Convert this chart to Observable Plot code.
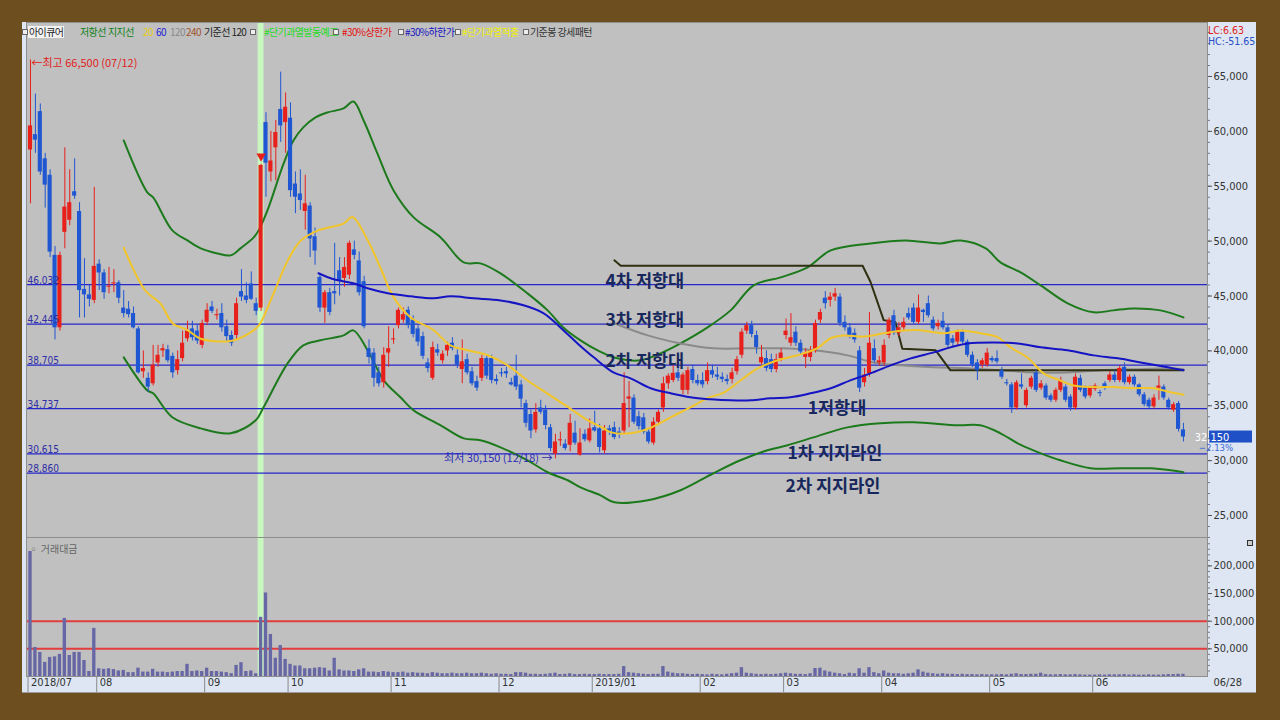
<!DOCTYPE html>
<html><head><meta charset="utf-8">
<script src="https://cdn.jsdelivr.net/npm/d3@7"></script>
<script src="https://cdn.jsdelivr.net/npm/@observablehq/plot@0.6"></script>
<style>
html,body{margin:0;padding:0;background:#6d4f1f;overflow:hidden;}
#frame{position:relative;width:1280px;height:720px;background:#6d4f1f;overflow:hidden;}
#chart{position:absolute;left:22px;top:22px;width:1234px;height:670px;background:#dde6f2;border-bottom:1px solid #9a9a9a;}
#price{position:absolute;left:0;top:0;}
#vol{position:absolute;left:0;top:515px;}
.lg{position:absolute;top:4px;font-family:"Noto Sans CJK KR","Noto Sans",sans-serif;font-size:10px;line-height:12px;white-space:nowrap;letter-spacing:-0.6px;}
.sq{position:absolute;top:7px;width:4px;height:4px;border:1px solid #666;background:#eee;}
.rt{position:absolute;left:1186px;font-family:"Liberation Sans Narrow","DejaVu Sans Condensed",Arial,sans-serif;font-size:10.5px;line-height:11px;}
</style></head>
<body><div id="frame"><div id="chart">
<div id="price"></div><div id="vol"></div>
</div></div>
<script>
// ---------------- DATA ----------------
const monthStarts = [0,14,36,53,74,96,115,137,154,174,196,217];
const monthLabels = ["2018/07","08","09","10","11","12","2019/01","02","03","04","05","06"];
const lastDateLabel = "06/28";

const opens = [
58300,59700,61800,57500,56000,48700,42100,50800,51900,54500,52700,45600,45100,44600,
47900,47100,45800,46100,46200,43900,43800,43400,42000,38100,37500,37000,38900,40000,40100,39500,38200,39300,41100,42000,41800,40500,
42600,44000,43200,43400,42200,41400,41400,45400,45000,46100,44300,43900,60800,56300,58500,62000,60800,
61200,55200,54300,52700,53200,50400,46700,43900,45300,45400,47300,46600,46900,49200,48200,46300,40200,39800,38000,37100,39800,
41000,42300,42800,43700,42800,42000,41300,38900,37500,40100,39100,40000,40700,39600,38300,39200,38100,37200,37500,39300,39300,37400,
38000,38100,37100,37700,36900,35200,34200,32800,34800,34600,33000,30600,31800,31500,31400,32500,30500,32400,31800,
33000,32900,30900,32900,33000,32600,32700,35600,35700,34000,33900,32600,31600,33500,34800,37000,37300,38000,36400,36400,38300,37300,
37300,37200,38200,37800,37600,37400,37400,38100,39600,41800,42300,41400,38900,39300,39200,38300,39300,
41400,40700,41700,40700,39400,39400,40000,42800,44800,44600,44900,44900,42600,42100,41600,40000,37100,37900,40200,38900,
38900,41400,43200,41600,42100,43400,43900,42600,43700,44300,42800,42200,42700,42100,41100,40800,41700,40800,39600,38900,38700,38700,
39300,39300,38200,37100,36900,34800,36900,35000,36700,38000,36600,36800,35900,35500,36400,36700,35800,34800,37500,36600,35900,
36500,36200,37000,37300,37800,37300,38500,37100,37600,36900,36000,35500,34900,36600,36700,35500,34600,35200,32800];

const highs = [
66500,63400,62500,58000,56500,49500,49000,58500,56500,57500,53500,48400,46000,54900,
48300,47400,47600,47400,46400,45500,44500,44000,42200,40000,38000,40500,40500,40600,40500,39800,40000,41800,42700,42700,42400,42800,
44300,44500,43800,44300,42800,41800,44800,47400,46200,47200,44800,57000,61700,60000,61000,65400,63500,
62600,56300,56500,56000,53500,51200,47000,45500,45700,49800,48500,48500,50000,50000,49000,46800,41000,40200,38500,40300,42200,
42000,43900,43900,44000,43200,42300,41700,39300,40800,40600,40000,40800,41200,40100,41000,39700,38500,37700,39600,39600,39600,37800,
38400,38500,37500,39600,37300,35500,34600,35200,35500,35000,33300,32400,32600,31900,34200,33600,32900,32800,33800,
34500,33300,33200,33200,33500,33000,38000,37200,36000,34500,34300,32900,33900,34600,37600,37900,38700,38500,38000,38500,38700,37800,
38000,38900,38700,38500,38000,37800,38400,39500,42000,42600,42700,41800,40500,40000,39700,39700,40200,
42900,43400,42200,41000,40200,40400,42800,43800,45400,45300,45700,45200,43200,42500,42000,40400,38400,43500,41000,39500,
41000,43000,43700,42600,43000,43900,44300,45100,43800,45000,43100,42800,43500,42400,41400,41900,41900,41000,39900,39200,39300,40200,
39500,40000,38500,37400,37100,37300,37900,36600,37700,38200,37300,37000,36100,36600,37600,36900,36000,37900,37800,36800,36800,
37000,36400,37200,38100,38200,38600,38900,37800,37800,37000,36200,35700,36000,37700,36900,35700,35300,35400,33400];

const lows = [
53400,58000,56000,53000,48500,41000,41800,49300,51400,53800,43000,43000,44000,44300,
45500,44700,45200,45300,44300,43000,43000,42000,37900,37500,36200,36800,38500,39400,38900,37500,37800,39000,40800,40900,40600,40200,
42300,43400,42800,41700,40800,40400,41000,44500,44300,44600,43200,43600,54000,55400,55500,59000,58000,
54000,52500,52800,51000,48500,47800,43500,42500,43200,44200,45000,45800,46500,48300,45000,42000,38800,36700,36700,36600,38500,
40600,42000,42500,42000,41200,40400,39200,38000,37300,39500,38800,39500,40000,38400,37000,37800,36800,36300,37200,37400,37000,36900,
37600,37500,36800,36400,34800,33000,32000,32500,34200,32800,30800,30150,31300,30900,30800,31400,30400,31700,31600,
32600,30700,30600,32300,31900,32000,32400,33000,33300,32800,32400,31500,31400,33200,34400,36500,37100,37200,36000,36000,37000,36800,
36600,36900,37500,37300,37100,36900,37000,37800,39300,41500,41200,39700,38700,38100,38000,38000,39000,
41000,40400,40400,39600,38400,39000,39800,42500,43800,44000,44500,42200,41800,41100,40700,36200,36700,37600,38900,38600,
38600,41100,41400,41300,41800,42800,42400,42400,42600,43000,41800,41900,41900,40300,40400,40500,40600,39400,38500,37300,38400,38500,
38900,38800,37400,36800,34300,34600,36500,34800,36500,36200,36400,35500,35300,35300,36200,35300,34500,34600,36200,35600,35700,
36300,35800,36400,37100,37100,37100,36900,36900,36700,35800,34900,34700,34700,35500,35500,34600,34400,32600,31700];

const closes = [
60500,59200,56300,55100,49000,42100,48700,53100,53500,54100,45500,45100,44700,47700,
47100,45300,45900,46200,44800,43400,43300,42100,38000,38400,36700,38700,39600,40200,39100,38000,39200,40700,41800,41200,40900,42500,
43700,43600,43300,42100,41300,40700,44300,44900,44600,44700,43600,56900,57100,57300,59900,60500,62200,
54600,54000,53700,53400,50200,49100,43900,45300,43500,45200,46400,47600,49800,48700,45300,42200,39400,37500,37000,39600,40200,
41100,43700,43300,42300,41500,40800,39500,38400,40300,39800,39700,40500,40200,38700,39000,38000,37000,36600,39300,37700,37300,37200,
37900,37900,36900,36700,35600,33400,32700,34400,34400,33200,31100,31700,31900,31100,33400,31600,31600,31900,32900,
32700,31200,32700,32600,32100,32400,35200,35800,33500,33100,32600,31700,33500,34400,37000,37700,37950,37500,37800,38200,37300,37000,
36900,38200,37800,37600,37400,37200,38000,39200,41700,42300,41500,40300,39400,38400,38300,39200,39800,
41800,41200,40700,39900,39800,40000,42500,43500,44300,44900,45200,42500,42100,41400,41000,36600,37800,40700,39100,39100,
40500,42800,41600,42100,42600,43000,42600,43900,43500,43200,42000,42500,42100,40500,40700,41700,40800,39600,38700,38200,39100,39800,
39100,39000,37600,37000,34800,37100,36700,36400,37500,36400,37000,35700,35500,36400,37300,35500,34800,37600,36400,35800,36600,
36800,36100,36600,37800,37300,38400,37100,37600,36900,36000,35100,34900,35700,36800,35700,34800,35100,32850,32150];

// 거래대금 (trading value)
const volumes = [
226000,52500,43500,25500,34500,35500,40000,105000,38000,43500,43500,29000,9000,87000,
14000,13000,14000,12500,10000,11000,7000,7000,15000,8000,8000,13000,8000,8000,7000,8000,9000,9000,22000,9000,10000,9000,
15000,9000,9000,8000,7000,5000,20000,25000,9000,10000,5000,107000,151000,76000,33000,56000,31000,
22000,19000,19000,14000,14000,15000,16000,15000,10000,33000,12000,10000,10000,9000,12000,14000,8000,8000,7000,9000,8000,
7000,7000,8000,6000,7000,6000,6000,5000,7000,6000,5000,5000,6000,5000,5000,6000,5000,5000,6000,5000,4000,5000,
4000,4000,3500,7000,7000,6000,4000,4000,3500,4000,5000,6000,3500,4000,5000,3500,3500,4000,3500,
3500,4000,3500,3500,3500,4000,18000,7000,6000,5000,4000,3500,4000,4000,18000,8000,6000,5000,5000,4000,3500,4000,
3500,3000,4000,3500,3000,4000,5000,6000,16000,6000,5000,4000,3500,4000,3500,4000,5000,
6000,5000,4000,4000,3500,5000,14500,15000,10000,8000,6000,5000,3500,6000,5000,14000,6000,16000,7000,5000,
10000,6000,5000,5000,4000,5000,6000,12000,8000,6000,5000,4000,5000,4000,4000,3500,4000,3500,3500,3000,3500,3000,
3000,3000,3500,3000,4000,5000,3500,3500,4000,4000,6000,3500,3000,3000,3500,3000,3000,3500,3000,2500,2500,
2500,3000,2500,3000,3000,3000,3500,2500,3000,2500,2500,3000,2500,2500,3000,3500,3500,4000,4000];

// indicator lines: [trading-day index, price]
const bbUpper = [[19,59170],[23.8,54440],[25,53980],[28.9,50980],[32,50060],[34.7,49340],[38.1,48880],[40.8,48700],[42.8,49340],[45.5,50340],[46.5,50980],[48.3,52800],[51.6,57080],[53.6,59170],[55.6,60360],[58.1,61270],[60.5,61720],[63.8,62090],[65.8,62720],[67.9,60990],[70.7,57990],[74,54620],[78.1,52160],[83.6,50340],[88.3,48060],[91.7,47970],[95.8,47060],[101.3,45240],[105.4,43690],[108.6,42140],[112.1,40960],[115.6,40050],[119.6,39320],[124.3,39140],[128.4,39770],[132.5,40680],[138,42140],[142.7,43690],[147.4,45970],[152.9,46700],[158.4,47610],[163.1,49150],[171.2,49790],[178.4,50060],[185.5,49790],[189.6,50060],[194.7,49340],[197.7,48060],[201.8,47150],[205.9,45970],[211.4,44330],[216.7,43510],[220.7,43690],[224.8,43870],[230.3,43690],[235,43050]];
const bbLower = [[19,39410],[23.8,36400],[25,36130],[28.9,33950],[34.7,32940],[40.8,32490],[45.9,33670],[47.5,34860],[52.4,38860],[55.6,40500],[59.1,40960],[63.8,41410],[65.8,41870],[68.7,40050],[72,37320],[75.4,35770],[78.1,34580],[83.6,33220],[88.3,32030],[91.7,31850],[95.8,31210],[101.3,30030],[105.4,28940],[109.5,28210],[112.1,27570],[116.2,26840],[119,26200],[125.8,26390],[132.5,27300],[139.2,28850],[144.7,30030],[150.2,30940],[154.3,31400],[159.6,32120],[166.5,33030],[173.3,33400],[180,33490],[189,33220],[193.6,33220],[197.7,32490],[201.2,31580],[204.4,30940],[209.9,30030],[216.1,29300],[222.2,29300],[228.3,29300],[232.4,29120],[235,28940]];
const ma20 = [[19,49400],[23.4,45500],[26.5,44300],[29,42500],[32,41900],[34.7,41100],[40.8,40900],[44.2,41500],[46.5,42300],[49.5,45200],[52.4,48200],[55,50000],[58.5,50950],[63.8,51600],[65.6,52200],[68.7,50100],[71.3,47600],[74,44900],[77.5,43050],[82.1,41900],[85.6,40500],[89.1,40050],[93.2,39600],[97.2,38700],[101.3,37300],[105.4,36100],[109.5,34900],[113.5,33700],[116.8,32950],[118.2,32600],[122.3,32500],[126.4,33000],[130.5,33950],[134.5,34850],[138,35700],[141.3,36200],[144.7,37300],[148.2,38400],[152.3,39150],[156.3,39600],[160.4,40250],[163.1,41150],[165.7,41400],[169.8,41300],[173.9,41600],[177.9,41850],[180.8,41900],[186.1,41600],[189.6,41850],[193.6,41600],[197.1,41250],[199.8,40300],[203.2,39400],[206.5,37950],[209.9,37300],[212.6,36850],[216.7,36700],[220.7,36700],[224.8,36600],[228.9,36600],[231.8,36300],[235,36000]];
const ma60 = [[58.7,47070],[61.8,46520],[65.8,46160],[68.7,45700],[72.8,45250],[77.5,44970],[82.1,44790],[85.6,44970],[90.3,44790],[95.8,44600],[100.5,44150],[104.6,43420],[108,42140],[111.5,40680],[114.8,39410],[118.8,38040],[122.3,37500],[126.4,36590],[130.5,36130],[134.5,35770],[138.6,35590],[142.7,35490],[146.8,35490],[150.8,35680],[154.9,35770],[159,36130],[163.1,36590],[167.1,37310],[171.2,37950],[175.3,38680],[179.4,39320],[184.1,39860],[187.5,40320],[191,40680],[196.3,40770],[201.2,40680],[205.9,40320],[211.4,40050],[216.7,39590],[221.6,39320],[226.3,38950],[231.8,38500],[235,38230]];
const ma120 = [[119,42520],[125.8,41410],[132.5,40680],[139.2,40230],[146.1,40230],[152.9,40230],[159.6,40050],[166.5,39590],[171.8,38950],[177.3,38680],[184.1,38500],[191,38410],[197.7,38230],[204.4,38040],[211.4,38040],[218.1,38230],[224.8,38320],[231.8,38410],[235,38320]];
const base120 = [[119,48250],[120.3,47750],[169.6,47750],[171.2,46300],[173.9,42800],[176.3,42600],[177.7,40200],[184.5,40050],[187.5,38230],[235,38230]];

const levels = [46032, 42445, 38705, 34737, 30615, 28860];
const annoAbove = [{t:"4차 저항대", i:117.2, v:46032},{t:"3차 저항대", i:117.2, v:42445},{t:"2차 저항대", i:117.2, v:38705}];
const annoOn = [{t:"1저항대", i:158.4, v:34737},{t:"1차 지지라인", i:154.3, v:30615}];
const annoBelow = [{t:"2차 지지라인", i:153.9, v:28860}];
const highlightDays = [47];
const signalDays = [47];
const extremes = [{i:0, v:66500, t:"←최고 66,500 (07/12)"}];
const troughs = [{i:107, v:30150, t:"최저 30,150 (12/18) →"}];
const priceTicks = [25000,30000,35000,40000,45000,50000,55000,60000,65000];
const volTicks = [50000,100000,150000,200000];
const volLines = [50000,100000];

// ---------------- LAYOUT ----------------
const W = 1234, ML = 4, MR = 49;
const xDomain = [-0.815, 239.9];
const RED = "#e8201c", BLUE = "#1f56d2", GREEN = "#1c7a1c";
const AXFONT = "'Liberation Sans Narrow','DejaVu Sans Condensed','Liberation Sans',Arial,sans-serif";
const KR = "'Noto Sans CJK KR',sans-serif";
const fmt = d3.format(",");

const candles = opens.map((o, i) => ({i, o, h: highs[i], l: lows[i], c: closes[i]}));
const upC = candles.filter(d => d.c >= d.o), dnC = candles.filter(d => d.c < d.o);
const minorPrice = d3.range(23000, 70000, 1000);
const minorVol = d3.range(10000, 250000, 10000);
const L = {x: d => d[0], y: d => d[1]};

const price = Plot.plot({
  width: W, height: 515, marginLeft: ML, marginRight: MR, marginTop: 0, marginBottom: 0,
  x: {domain: xDomain, axis: null, label: null},
  y: {domain: [22995, 69920], axis: null, label: null},
  style: {fontFamily: AXFONT, fontSize: "11px", background: "transparent", color: "#333", overflow: "visible"},
  marks: [
    Plot.frame({fill: "#c0c0c0"}),
    Plot.rect(highlightDays, {x1: d => d - 0.6, x2: d => d + 0.6, fill: "#c8f8c0"}),
    Plot.ruleY(levels, {stroke: "#2626cc", strokeWidth: 1.2}),
    Plot.line(bbUpper, {...L, stroke: GREEN, strokeWidth: 2, curve: "catmull-rom"}),
    Plot.line(bbLower, {...L, stroke: GREEN, strokeWidth: 2, curve: "catmull-rom"}),
    Plot.line(ma120, {...L, stroke: "#8a8a8a", strokeWidth: 2, curve: "catmull-rom"}),
    Plot.line(base120, {...L, stroke: "#2f2f12", strokeWidth: 2}),
    Plot.ruleX(upC, {x: "i", y1: "l", y2: "h", stroke: RED, strokeWidth: 1}),
    Plot.ruleX(dnC, {x: "i", y1: "l", y2: "h", stroke: BLUE, strokeWidth: 1}),
    Plot.rect(upC, {x1: d => d.i - 0.42, x2: d => d.i + 0.42, y1: "o", y2: "c", fill: RED}),
    Plot.rect(dnC, {x1: d => d.i - 0.42, x2: d => d.i + 0.42, y1: "o", y2: "c", fill: BLUE}),
    Plot.line(ma20, {...L, stroke: "#f2c62a", strokeWidth: 2, curve: "catmull-rom"}),
    Plot.line(ma60, {...L, stroke: "#1414c4", strokeWidth: 2, curve: "catmull-rom"}),
    Plot.text(levels, {y: d => d, frameAnchor: "left", text: d => fmt(d), textAnchor: "start", lineAnchor: "bottom", dx: 1, dy: -1, fill: "#2e2ea6", fontSize: 10}),
    Plot.dot(signalDays, {x: d => d, y: d => highs[d], symbol: "triangle", rotate: 180, r: 3.5, fill: RED, dy: -8}),
    Plot.text(extremes, {x: "i", y: "v", text: "t", textAnchor: "start", dx: 1, dy: 3, fill: "#e02020", fontSize: 11, fontFamily: KR}),
    Plot.text(troughs, {x: "i", y: "v", text: "t", textAnchor: "end", dx: -3, dy: -1, fill: "#2a2ab4", fontSize: 11, fontFamily: KR}),
    Plot.text(annoAbove, {x: "i", y: "v", text: "t", textAnchor: "start", lineAnchor: "bottom", dy: 2, fill: "#18285c", fontSize: 17.5, fontWeight: "bold", fontFamily: KR}),
    Plot.text(annoOn, {x: "i", y: "v", text: "t", textAnchor: "start", lineAnchor: "bottom", dy: 5, fill: "#18285c", fontSize: 17.5, fontWeight: "bold", fontFamily: KR}),
    Plot.text(annoBelow, {x: "i", y: "v", text: "t", textAnchor: "start", lineAnchor: "top", dy: 6, fill: "#18285c", fontSize: 17.5, fontWeight: "bold", fontFamily: KR}),
    Plot.axisY(minorPrice, {anchor: "right", tickSize: 2, tickFormat: () => "", stroke: "#777", label: null}),
    Plot.axisY(priceTicks, {anchor: "right", tickSize: 4, tickPadding: 2, tickFormat: d => fmt(d), stroke: "#555", fill: "#333", label: null}),
    Plot.frame({stroke: "#8e8e8e"})
  ]
});
document.getElementById("price").append(price);

// current price box on the right axis
{
  const last = closes[closes.length - 1], prev = closes[closes.length - 2];
  const y = price.scale("y").apply(last);
  const x0 = W - MR + 2;
  const g = d3.select(price).append("g").attr("font-family", AXFONT);
  g.append("rect").attr("x", x0).attr("y", y - 6).attr("width", 43).attr("height", 12).attr("fill", "#1f50c6");
  g.append("text").attr("x", x0 + 3).attr("y", y + 4.5).attr("font-size", 11).attr("fill", "#fff").text(fmt(last));
  g.append("text").attr("x", x0 + 7).attr("y", y + 14).attr("font-size", 9.5).attr("fill", "#3a66d8").text(d3.format(".2f")((last / prev - 1) * 100) + "%");
}

const volData = volumes.map((v, i) => ({i, v}));
const months = monthStarts.map((s, k) => ({x: s - 0.5, label: monthLabels[k]}));
const vol = Plot.plot({
  width: W, height: 155, marginLeft: ML, marginRight: MR, marginTop: 0, marginBottom: 16,
  x: {domain: xDomain, axis: null, label: null},
  y: {domain: [0, 251300], axis: null, label: null},
  style: {fontFamily: AXFONT, fontSize: "11px", background: "transparent", color: "#333", overflow: "visible"},
  marks: [
    Plot.frame({fill: "#c0c0c0"}),
    Plot.rect(highlightDays, {x1: d => d - 0.6, x2: d => d + 0.6, fill: "#c8f8c0"}),
    Plot.ruleY(volLines, {stroke: "#e23c3c", strokeWidth: 2}),
    Plot.rectY(volData, {x1: d => d.i - 0.34, x2: d => d.i + 0.34, y: "v", fill: "#6767a6"}),
    Plot.text(["▫ 거래대금"], {frameAnchor: "top-left", dx: 2, dy: 8, fill: "#666", fontSize: 10, fontFamily: KR}),
    Plot.axisY(minorVol, {anchor: "right", tickSize: 2, tickFormat: () => "", stroke: "#777", label: null}),
    Plot.axisY(volTicks, {anchor: "right", tickSize: 4, tickPadding: 2, tickFormat: d => fmt(d), stroke: "#555", fill: "#333", label: null}),
    Plot.axisX(months.map(d => d.x), {anchor: "bottom", tickSize: 16, tickFormat: () => "", stroke: "#8a8a8a", label: null}),
    Plot.text(months, {x: "x", text: "label", frameAnchor: "bottom", textAnchor: "start", dx: 3, dy: 9, fill: "#333"}),
    Plot.text([lastDateLabel], {frameAnchor: "bottom-right", textAnchor: "start", dx: 6, dy: 9, fill: "#333"}),
    Plot.frame({stroke: "#8e8e8e"})
  ]
});
document.getElementById("vol").append(vol);

// legend row (top of price pane)
const legendItems = [
  {x: 0, sq: true}, {x: 6, t: "아이큐어", c: "#222", bg: "#f2f2f2"},
  {x: 58, t: "저항선", c: "#12801c"}, {x: 86, t: "지지선", c: "#12801c"},
  {x: 121, t: "20", c: "#e6cc10"}, {x: 134, t: "60", c: "#2020d0"}, {x: 148, t: "120", c: "#8a8a8a"},
  {x: 164, t: "240", c: "#a0522d"}, {x: 182, t: "기준선 120", c: "#222"},
  {x: 228, sq: true}, {x: 242, t: "#단기과열발동예고", c: "#22dd22"},
  {x: 311, sq: true}, {x: 320, t: "#30%상한가", c: "#e01010"},
  {x: 376, sq: true}, {x: 383, t: "#30%하한가", c: "#1414c0"},
  {x: 433, sq: true}, {x: 440, t: "#단기과열적출", c: "#f0f000"},
  {x: 501, sq: true}, {x: 508, t: "기준봉 강세패턴", c: "#333"}
];
const chartDiv = document.getElementById("chart");
for (const it of legendItems) {
  const el = document.createElement("div");
  if (it.sq) { el.className = "sq"; el.style.left = it.x + "px"; }
  else { el.className = "lg"; el.style.left = it.x + "px"; el.style.color = it.c; el.textContent = it.t; if (it.bg) { el.style.background = it.bg; el.style.padding = "0 1px"; } }
  chartDiv.append(el);
}
const lc = document.createElement("div"); lc.className = "rt"; lc.style.top = "3px"; lc.style.color = "#e02020"; lc.textContent = "LC:6.63"; chartDiv.append(lc);
const hc = document.createElement("div"); hc.className = "rt"; hc.style.top = "14px"; hc.style.color = "#2a4fc8"; hc.textContent = "HC:-51.65"; chartDiv.append(hc);
const ic = document.createElement("div"); ic.className = "sq"; ic.style.left = "1225px"; ic.style.top = "518px"; ic.style.background = "#ccc"; ic.style.borderColor = "#333"; chartDiv.append(ic);
</script>
</body></html>
